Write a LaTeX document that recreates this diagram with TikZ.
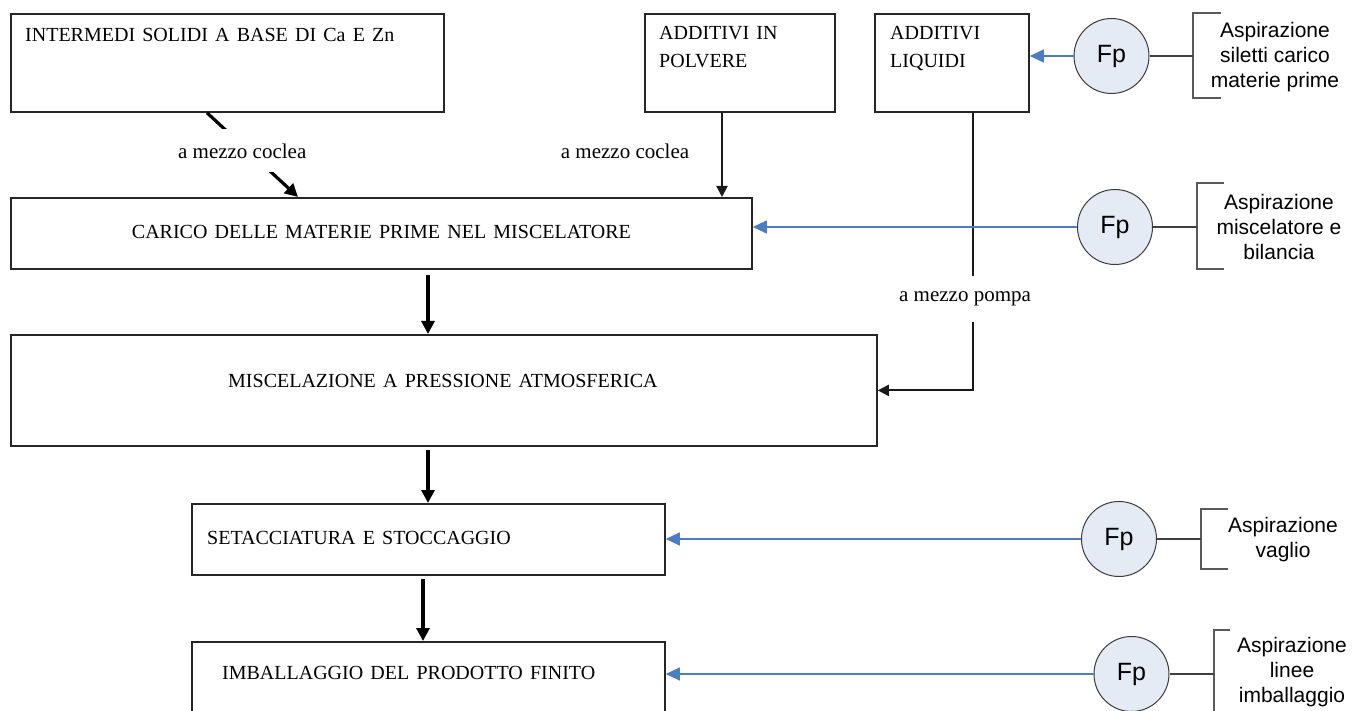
\documentclass[tikz,border=0pt]{standalone}
\usepackage{fontspec}
\setmainfont{Liberation Serif}
\newfontfamily\arialfont{Liberation Sans}
\usetikzlibrary{arrows.meta}

\definecolor{fanfill}{HTML}{E5EBF5}
\definecolor{fanline}{HTML}{3C3C3C}
\definecolor{suction}{HTML}{4A7EC1}
\definecolor{tiegray}{HTML}{404040}
\definecolor{bracegray}{HTML}{5A5A5A}

% box captions: 20pt serif with slightly wider word spaces
\newcommand\stepcaptionfont{\fontsize{20}{28}\selectfont\spaceskip=7.2pt plus 2pt minus 1pt\relax}

\tikzset{
  box/.style={draw=black!85, line width=1.8pt, rectangle, anchor=north west, inner sep=0pt},
  boxtext/.style={font=\stepcaptionfont, inner sep=0pt, align=left},
  flow/.style={draw=black, line width=3.2pt, -{Triangle[length=13pt,width=13pt]}},
  feed/.style={draw=black!90, line width=2pt, -{Triangle[length=11pt,width=11pt]}},
  via/.style={fill=white, font=\fontsize{21}{25}\selectfont, inner xsep=1pt, inner ysep=0pt},
  fan/.style={circle, draw=fanline, line width=1pt, fill=fanfill, minimum size=75pt,
              inner sep=0pt, font=\arialfont\fontsize{25}{30}\selectfont},
  suck/.style={draw=suction, line width=1.1pt, -{Triangle[length=14pt,width=13pt]}},
  tie/.style={draw=tiegray, line width=1.1pt},
  brace/.style={draw=bracegray, line width=1.1pt},
  note/.style={align=center, font=\arialfont\fontsize{21}{25}\selectfont, inner sep=0pt},
}

\begin{document}
\begin{tikzpicture}[x=1pt, y=-1pt]
  \path[use as bounding box] (0,0) rectangle (1353,711);
  \fill[white] (0,0) rectangle (1353,711);
  \clip (0,0) rectangle (1353,711);

  % raw materials
  \node[box, minimum width=433pt, minimum height=98pt,
        label={[boxtext, anchor=base west, xshift=15pt, yshift=-28.5pt]north west:INTERMEDI SOLIDI A BASE DI Ca E Zn}] (b1) at (10,13) {};
  \node[box, minimum width=190pt, minimum height=98pt,
        label={[boxtext, anchor=north west, xshift=15pt, yshift=-13.5pt]north west:ADDITIVI IN\\POLVERE}] (b2) at (644,13) {};
  \node[box, minimum width=154pt, minimum height=98pt,
        label={[boxtext, anchor=north west, xshift=16pt, yshift=-13.5pt]north west:ADDITIVI\\LIQUIDI}] (b3) at (874,13) {};

  % process steps
  \node[box, minimum width=741pt, minimum height=71pt,
        label={[boxtext, anchor=base, yshift=-41.6pt]north:CARICO DELLE MATERIE PRIME NEL MISCELATORE}] (b4) at (10,197) {};
  \node[box, minimum width=866pt, minimum height=111pt,
        label={[boxtext, anchor=base, xshift=-1pt, yshift=-53.6pt]north:MISCELAZIONE A PRESSIONE ATMOSFERICA}] (b5) at (10,334) {};
  \node[box, minimum width=473pt, minimum height=71pt,
        label={[boxtext, anchor=base west, xshift=16pt, yshift=-41.6pt]north west:SETACCIATURA E STOCCAGGIO}] (b6) at (191,503) {};
  \node[box, minimum width=473pt, minimum height=80pt,
        label={[boxtext, anchor=base west, xshift=31pt, yshift=-38.6pt]north west:IMBALLAGGIO DEL PRODOTTO FINITO}] (b7) at (191,641) {};

  % vertical lines of the flow
  \coordinate (c1) at (428,0);
  \coordinate (c2) at (722,0);
  \coordinate (c3) at (973,0);
  \coordinate (c4) at (423,0);

  % feeds into the mixer
  \draw[flow] ([xshift=197pt]b1.south west)
    -- node[via, pos=0.453, xshift=-6pt, minimum height=43pt] (l1) {a mezzo coclea}
    ([xshift=288pt]b4.north west);
  \draw[feed] (b2.south -| c2) -- (b4.north -| c2);
  \node[via] (l2) at (625,151) {a mezzo coclea};
  \draw[feed] (b3.south -| c3)
    -- node[via, pos=0.671, xshift=-8pt, minimum height=46pt] (l3) {a mezzo pompa}
    (c3 |- b5.east) -- (b5.east);

  % main flow
  \draw[flow, shorten <=5pt] (b4.south -| c1) -- (b5.north -| c1);
  \draw[flow, shorten <=3pt] (b5.south -| c1) -- (b6.north -| c1);
  \draw[flow, shorten <=3pt] (b6.south -| c4) -- (b7.north -| c4);

  % extraction fans
  \node[fan] (f1) at (1111.5,56) {Fp};
  \node[fan] (f2) at (1115,227) {Fp};
  \node[fan] (f3) at (1119,539) {Fp};
  \node[fan] (f4) at (1131.5,674) {Fp};

  \draw[suck] (f1.west) -- (f1.west -| b3.east);
  \draw[suck] (f2.west) -- (f2.west -| b4.east);
  \draw[suck] (f3.west) -- (f3.west -| b6.east);
  \draw[suck] (f4.west) -- (f4.west -| b7.east);

  % annotations
  \coordinate (k1) at (1193,56);
  \coordinate (k2) at (1197,227);
  \coordinate (k3) at (1201,539);
  \coordinate (k4) at (1214,674);
  \draw[brace] (1221,13) -- (1193,13) -- (1193,98) -- (1221,98);
  \draw[brace] (1224,183) -- (1197,183) -- (1197,269) -- (1224,269);
  \draw[brace] (1228,509) -- (1201,509) -- (1201,569) -- (1228,569);
  \draw[brace] (1230,630) -- (1214,630) -- (1214,720);
  \draw[tie] (f1.east) -- (f1.east -| k1);
  \draw[tie] (f2.east) -- (f2.east -| k2);
  \draw[tie] (f3.east) -- (f3.east -| k3);
  \draw[tie] (f4.east) -- (f4.east -| k4);

  \node[note] (n1) at (1275,57) {Aspirazione\\siletti carico\\materie prime};
  \node[note] (n2) at (1279,227) {Aspirazione\\miscelatore e\\bilancia};
  \node[note] (n3) at (1283,540) {Aspirazione\\vaglio};
  \node[note] (n4) at (1292,672) {Aspirazione\\linee\\imballaggio};
\end{tikzpicture}
\end{document}
